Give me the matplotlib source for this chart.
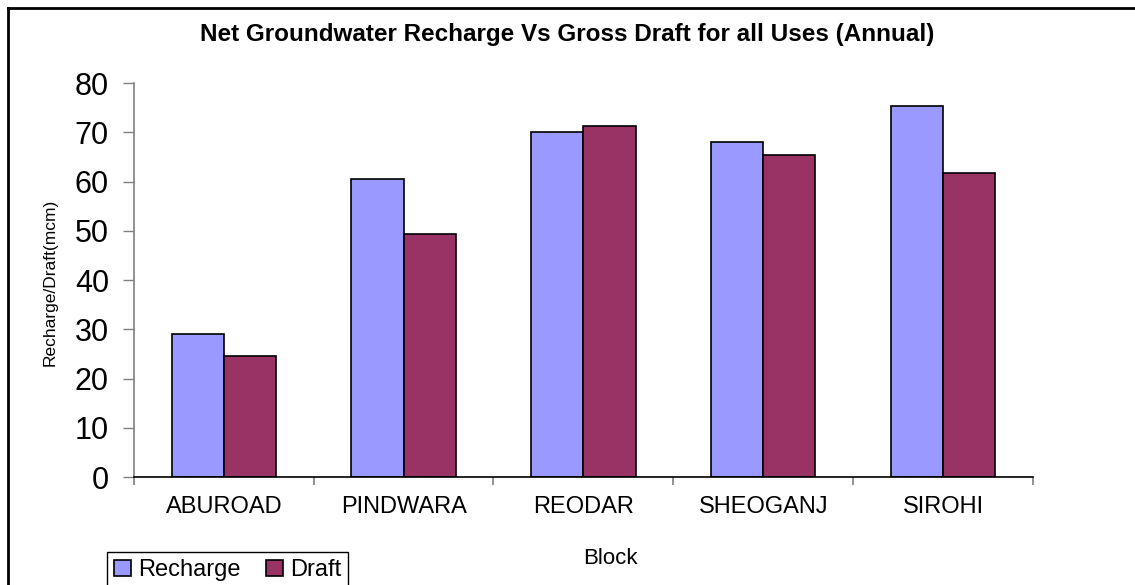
import matplotlib.pyplot as plt
import numpy as np
from matplotlib.lines import Line2D

plt.rcParams['font.family'] = ['Liberation Sans', 'DejaVu Sans']

blocks = ["ABUROAD", "PINDWARA", "REODAR", "SHEOGANJ", "SIROHI"]
recharge = [29.0, 60.5, 70.1, 68.0, 75.4]
draft = [24.6, 49.3, 71.3, 65.4, 61.7]

fig = plt.figure(figsize=(11.35, 5.85), dpi=100)
ax = fig.add_axes([0.118, 0.1846, 0.792, 0.6734])

x = np.arange(len(blocks))
w = 0.29
ax.bar(x - w / 2, recharge, w, color="#9999FF", edgecolor="black", linewidth=1.2, label="Recharge")
ax.bar(x + w / 2, draft, w, color="#993366", edgecolor="black", linewidth=1.2, label="Draft")

ax.set_xlim(-0.5, len(blocks) - 0.5)
ax.set_ylim(0, 80)
ax.set_yticks(range(0, 81, 10))
ax.tick_params(axis="y", labelsize=22, length=8, width=1, color="#808080", pad=10)

# group boundaries get the tick marks, the names sit between them
ax.set_xticks(np.arange(len(blocks) + 1) - 0.5)
ax.set_xticklabels([])
ax.set_xticks(x, minor=True)
ax.set_xticklabels(blocks, minor=True, fontsize=17)
ax.tick_params(axis="x", which="major", length=6, width=1.2, color="#808080", direction="out")
ax.tick_params(axis="x", which="minor", length=0, pad=14)

for s in ["top", "right"]:
    ax.spines[s].set_visible(False)
ax.spines["left"].set_color("#808080")
ax.spines["left"].set_linewidth(1.2)
ax.spines["bottom"].set_color("black")
ax.spines["bottom"].set_linewidth(1.2)

fig.text(567 / 1135, 1 - 35 / 585, "Net Groundwater Recharge Vs Gross Draft for all Uses (Annual)",
         ha="center", va="center", fontsize=17.5, fontweight="bold")
fig.text(50 / 1135, 1 - 282 / 585, "Recharge/Draft(mcm)", rotation=90,
         ha="center", va="center", fontsize=12.5)
fig.text(610 / 1135, 1 - 558 / 585, "Block", ha="center", va="center", fontsize=16)

leg = fig.legend(loc="upper left", bbox_to_anchor=(107 / 1135, 1 - 552 / 585), ncol=2,
                 fontsize=17, frameon=True, fancybox=False, framealpha=1,
                 handlelength=0.7, handleheight=0.7, handletextpad=0.3,
                 columnspacing=1.1, borderpad=0.3, borderaxespad=0)
leg.get_frame().set_edgecolor("black")
leg.get_frame().set_linewidth(1)

# chart frame along top and left edges
fig.add_artist(Line2D([8 / 1135, 1], [1 - 8 / 585, 1 - 8 / 585], color="black", linewidth=2))
fig.add_artist(Line2D([8 / 1135, 8 / 1135], [0, 1 - 8 / 585], color="black", linewidth=2))

fig.savefig("out.png", dpi=100)
